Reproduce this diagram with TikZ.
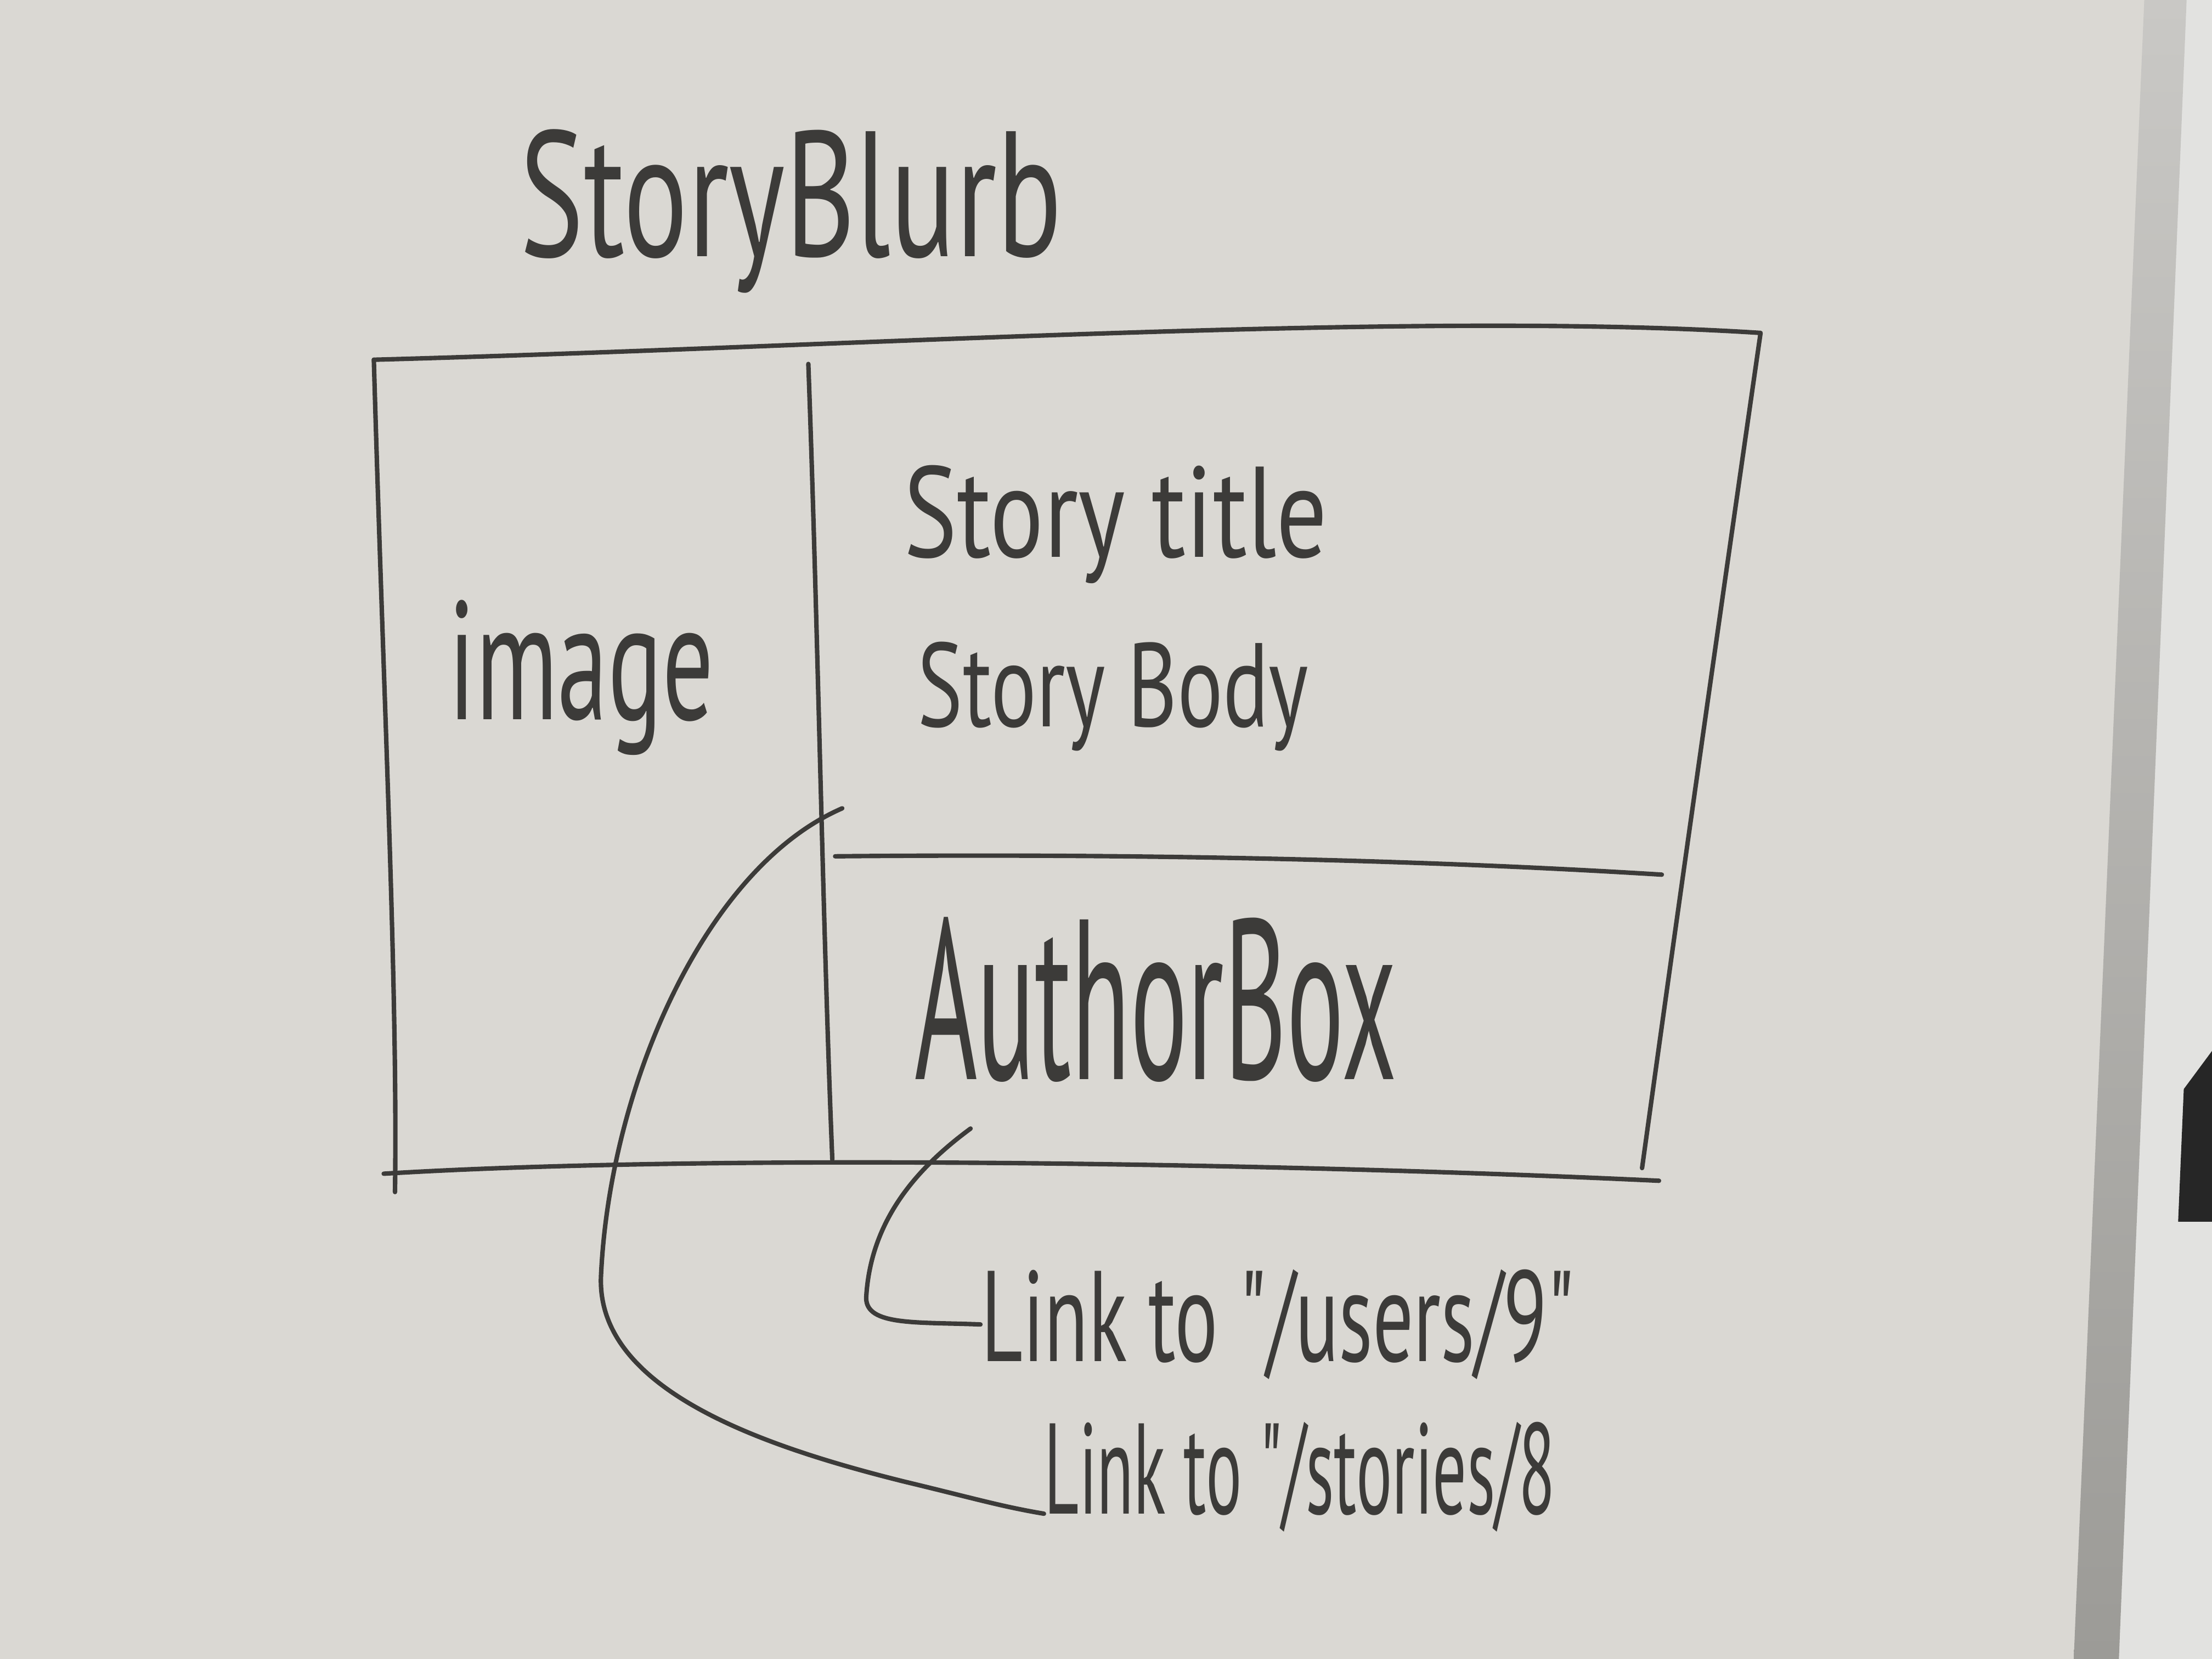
\documentclass[tikz,border=0pt]{standalone}
\usepackage{fontspec}
\setmainfont{PT Sans}[Ligatures=TeXOff]
\usetikzlibrary{positioning}
\definecolor{board}{HTML}{DAD8D3}
\definecolor{ink}{HTML}{3C3B39}
\definecolor{rimtop}{HTML}{C9C8C5}
\definecolor{rimbot}{HTML}{9C9B97}
\definecolor{wall}{HTML}{E2E2E0}

\begin{document}
\begin{tikzpicture}[x=0.01cm, y=-0.01cm,
  pen/.style={draw=ink, line width=0.9pt, line cap=round, line join=round},
  hand/.style={text=ink, inner sep=0pt, transform shape, xscale=#1},
  hand/.default=0.6]
  \useasboundingbox (0,0) rectangle (1568,1176);
  % board, metal rim and wall
  \fill[board] (0,0) rectangle (1568,1176);
  \fill[wall] (1548,0) -- (1568,0) -- (1568,1176) -- (1500,1176) -- cycle;
  \shade[top color=rimtop, bottom color=rimbot] (1520,0) -- (1550,0) -- (1502,1176) -- (1470,1176) -- cycle;
  \fill[black!85] (1568,745) -- (1548,772) -- (1544,866) -- (1568,866) -- cycle;

  % title
  \node[hand=0.675, font=\fontsize{36}{40}\selectfont, anchor=base west] (blurb) at (368,182) {StoryBlurb};

  % outer box and dividers
  \draw[pen] (265,255) .. controls (600,246) and (1000,220) .. (1248,236)
    .. controls (1220,430) and (1190,640) .. (1164,828);
  \draw[pen] (265,255) .. controls (272,500) and (282,700) .. (280,845);
  \draw[pen] (272,832) .. controls (500,818) and (900,824) .. (1176,837);
  \draw[pen] (573,258) .. controls (580,450) and (583,650) .. (590,822);
  \draw[pen] (592,607) .. controls (800,605) and (1000,609) .. (1178,620);

  % texts inside
  \node[hand=0.6, font=\fontsize{34}{38}\selectfont, anchor=base] (image) at (412,510) {image};
  \node[hand=0.78, font=\fontsize{26}{30}\selectfont, anchor=base west] (title) at (640,395) {Story title};
  \node[hand=0.715, font=\fontsize{24}{28}\selectfont, anchor=base west] (body) at (650,515) {Story Body};
  \node[hand=0.47, font=\fontsize{46}{50}\selectfont, anchor=base west] (author) at (648,765) {AuthorBox};

  % links
  \node[hand=0.625, font=\fontsize{26}{30}\selectfont, anchor=base west] (users) at (695,965) {Link to "/users/9"};
  \node[hand=0.52, font=\fontsize{26}{30}\selectfont, anchor=base west] (stories) at (740,1073) {Link to "/stories/8};

  \coordinate (authorlink) at (688,800);
  \coordinate (storylink) at (597,573);
  \draw[pen] (authorlink) .. controls (650,828) and (617,865) .. (614,920)
    .. controls (614,940) and (650,937) .. (users.west);
  \draw[pen] (storylink) .. controls (500,615) and (432,770) .. (426,905)
    .. controls (423,985) and (540,1025) .. (640,1050)
    .. controls (690,1062) and (710,1068) .. (stories.base west);
\end{tikzpicture}
\end{document}
